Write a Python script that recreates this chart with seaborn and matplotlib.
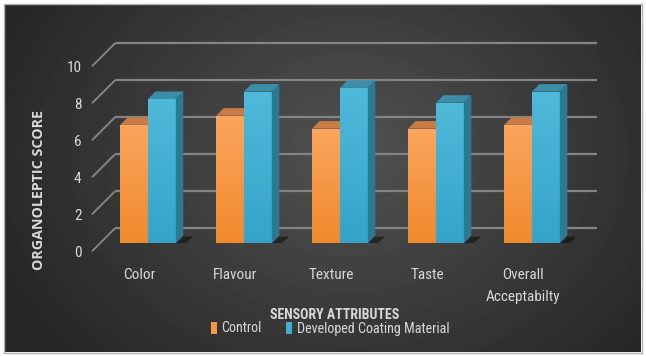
import numpy as np
import pandas as pd
import matplotlib
matplotlib.use("Agg")
import matplotlib.pyplot as plt
import seaborn as sns
from matplotlib.patches import Polygon, Rectangle, Patch
from matplotlib.transforms import ScaledTranslation
from matplotlib.colors import LinearSegmentedColormap
from matplotlib import font_manager

# ---------------- data ----------------
categories = ["Color", "Flavour", "Texture", "Taste", "Overall\nAcceptabilty"]
control = [6.4, 6.9, 6.2, 6.2, 6.4]
developed = [7.8, 8.2, 8.4, 7.6, 8.2]
series_names = ["Control", "Developed Coating Material"]
y_ticks = [0, 2, 4, 6, 8, 10]

# ---------------- style ----------------
sns.set_theme(style="white")
ttf = font_manager.fontManager.ttflist
names = {f.name for f in ttf}


def pick_narrow():
    for nm in ["Liberation Sans Narrow", "Roboto Condensed", "Open Sans Condensed", "Arial Narrow"]:
        if nm in names:
            return nm, "normal"
    for f in ttf:
        if "Narrow" in f.name or "Condensed" in f.name:
            return f.name, "normal"
    for f in ttf:
        if f.name == "DejaVu Sans" and str(f.stretch) in ("condensed", "semi-condensed"):
            return "DejaVu Sans", str(f.stretch)
    return "DejaVu Sans", "normal"


narrow, stretch = pick_narrow()
plt.rcParams["font.family"] = [narrow, "DejaVu Sans"]
plt.rcParams["font.stretch"] = stretch

TXT = "#d9d9d9"
orange_front, orange_top = "#F7963C", "#C97C45"
blue_front, blue_top, blue_side = "#41AED3", "#3A8EA8", "#2B7A92"

W, H = 646, 356
fig = plt.figure(figsize=(W / 100, H / 100), dpi=100, facecolor="white")

# ---------------- background panel ----------------
bg = fig.add_axes([4 / W, 4 / H, 637 / W, 348 / H])
yy, xx = np.mgrid[0:348, 0:637]
r = np.sqrt(((xx - 345) / 380.0) ** 2 + ((yy - 150) / 300.0) ** 2)
val = 0.32 - 0.17 * np.clip(r, 0, 1)
bg.imshow(val, cmap="gray", vmin=0, vmax=1, aspect="auto", extent=[0, 1, 0, 1])
bg.set_axis_off()
fig.patches.append(Rectangle((3.5 / W, 3.5 / H), 638 / W, 349 / H, transform=fig.transFigure,
                             fill=False, edgecolor="#b0b0b0", lw=1, zorder=10))

# ---------------- main axes (bar plane) ----------------
xl_px, xr_px = 92.3, 575.2
y0_px, y10_px = 243.3, 58.3
ax = fig.add_axes([xl_px / W, (H - y0_px) / H, (xr_px - xl_px) / W, (y0_px - y10_px) / H])
ax.patch.set_alpha(0)

df = pd.DataFrame({
    "attribute": categories * 2,
    "score": control + developed,
    "series": [series_names[0]] * len(categories) + [series_names[1]] * len(categories),
})
sns.barplot(data=df, x="attribute", y="score", hue="series", hue_order=series_names,
            palette=[orange_front, blue_front], width=0.58, saturation=1, errorbar=None,
            legend=False, ax=ax)

xmin, xmax, ymin, ymax = -0.58, 4.45, 0, 10
ax.set_xlim(xmin, xmax)
ax.set_ylim(ymin, ymax)
px_x = (xr_px - xl_px) / (xmax - xmin)
px_y = (y0_px - y10_px) / (ymax - ymin)


def off(px):
    return px / px_x, px / px_y


# gridlines: front edge -> back wall
bdx, bdy = off(15)
fdx, fdy = off(8)
for v in y_ticks:
    ax.plot([-0.5 - fdx, -0.5 + bdx], [v - fdy, v + bdy], color="#848484", lw=1.4,
            clip_on=False, zorder=1, solid_capstyle="butt")
    ax.plot([-0.5 + bdx, 4.52 + bdx], [v + bdy, v + bdy], color="#848484", lw=1.6,
            clip_on=False, zorder=1, solid_capstyle="butt")

# 3D faces
d, dd = off(7.5)
cmap_o = LinearSegmentedColormap.from_list("o", ["#F08A2C", "#FBA55E"])
cmap_b = LinearSegmentedColormap.from_list("b", ["#35A3C9", "#4FB9DB"])
for ci, cont in enumerate(ax.containers):
    for k, bar in enumerate(cont):
        x0, w, h = bar.get_x(), bar.get_width(), bar.get_height()
        base_z = 3 if ci == 0 else 5
        bar.set_zorder(base_z)
        bar.set_edgecolor("none")
        im = ax.imshow(np.linspace(0, 1, 100).reshape(-1, 1), origin="lower",
                       cmap=cmap_o if ci == 0 else cmap_b, aspect="auto",
                       extent=[x0, x0 + w, 0, h], zorder=base_z + 0.1)
        im.set_clip_path(bar)
        top = Polygon([(x0, h), (x0 + w, h), (x0 + w + d, h + dd), (x0 + d, h + dd)],
                      closed=True, facecolor=orange_top if ci == 0 else blue_top,
                      edgecolor="none", zorder=base_z + 0.5)
        ax.add_patch(top)
        if ci == 1:
            side = Polygon([(x0 + w, 0), (x0 + w, h), (x0 + w + d, h + dd), (x0 + w + d, dd)],
                           closed=True, facecolor=blue_side, edgecolor="none", zorder=base_z + 0.5)
            ax.add_patch(side)
            left = ax.containers[0][k].get_x()
            sx, sy = off(10)
            sh = Polygon([(left - sx * 0.2, -sy * 0.3), (x0 + w + sx * 0.6, -sy * 0.3),
                          (x0 + w + d + sx, dd * 0.9), (left + d, dd * 0.9)],
                         closed=True, facecolor="black", alpha=0.45, edgecolor="none", zorder=2)
            ax.add_patch(sh)

ax.set_xlim(xmin, xmax)
ax.set_ylim(ymin, ymax)

# ---------------- axes text ----------------
for s in ax.spines.values():
    s.set_visible(False)
ax.grid(False)
ax.set_yticks(y_ticks)
ax.set_yticklabels([str(t) for t in y_ticks])
ax.tick_params(axis="both", length=0, labelcolor=TXT, labelsize=11)
ax.tick_params(axis="x", pad=17.5)
ax.tick_params(axis="y", pad=7.8)
for lbl in ax.get_xticklabels():
    lbl.set_transform(lbl.get_transform() + ScaledTranslation(-9 / 100, 0, fig.dpi_scale_trans))
    lbl.set_linespacing(1.75)
for lbl in ax.get_yticklabels():
    lbl.set_transform(lbl.get_transform() + ScaledTranslation(0, -8 / 100, fig.dpi_scale_trans))

ax.set_xlabel("SENSORY ATTRIBUTES", fontsize=10, fontweight="bold", color=TXT)
ax.xaxis.set_label_coords((335 - xl_px) / (xr_px - xl_px), (y0_px - 315) / (y0_px - y10_px))
ax.xaxis.label.set_va("center")
ax.set_ylabel("ORGANOLEPTIC SCORE", fontsize=10.3, fontweight="bold", color=TXT,
              family=["Open Sans", "DejaVu Sans"], stretch="normal")
ax.yaxis.set_label_coords((39 - xl_px) / (xr_px - xl_px), (y0_px - 190) / (y0_px - y10_px))
ax.yaxis.label.set_va("center")

handles = [Patch(facecolor=orange_front, edgecolor="none"), Patch(facecolor=blue_front, edgecolor="none")]
leg = ax.legend(handles=handles, labels=series_names, ncol=2, loc="center",
                bbox_to_anchor=(330 / W, (H - 328.5) / H), bbox_transform=fig.transFigure,
                frameon=False, handlelength=0.45, handleheight=0.95, handletextpad=0.3,
                columnspacing=1.7, fontsize=10.2, labelcolor=TXT, borderpad=0, borderaxespad=0)

fig.savefig("out.png", dpi=100, facecolor="white")
